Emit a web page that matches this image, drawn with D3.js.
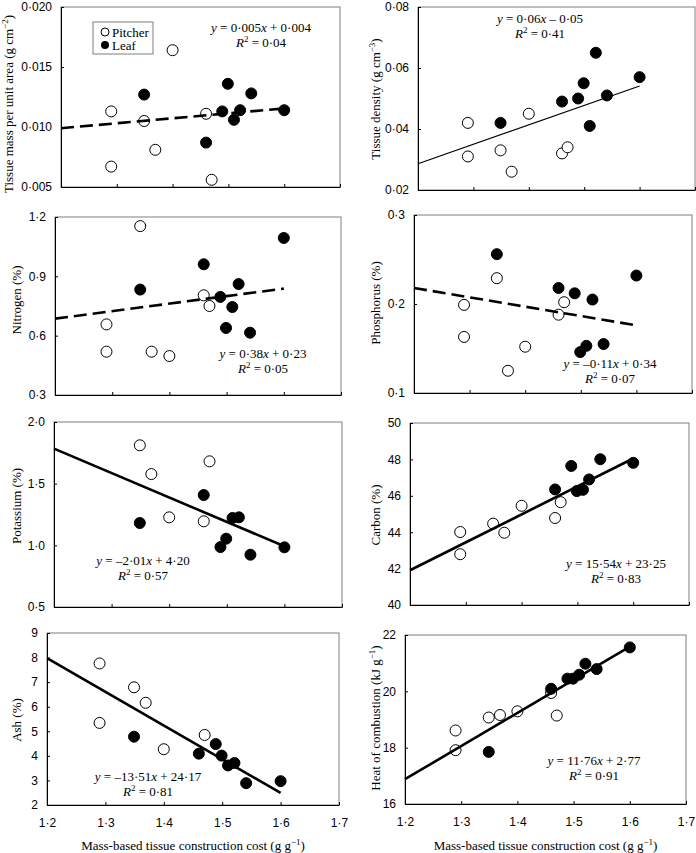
<!DOCTYPE html>
<html>
<head>
<meta charset="utf-8">
<script src="https://cdn.jsdelivr.net/npm/d3@7"></script>
<style>
  body { margin: 0; background: #fff; }
  svg { font-family: "Liberation Serif", "Times New Roman", serif; }
  text { white-space: pre; }
</style>
</head>
<body>
<script>
// construction cost (x) of each plant, same in every panel
var pitcherCost = [1.29, 1.29, 1.349, 1.369, 1.40, 1.46, 1.47];
var leafCost = [1.349, 1.46, 1.489, 1.499, 1.51, 1.521, 1.541, 1.60];

// y values per panel, in the order of the cost arrays (null = not plotted)
var tmaPitcher = [0.0113, 0.0067, 0.0105, 0.0081, 0.0164, 0.0111, 0.0056];
var tmaLeaf = [0.0127, 0.0087, 0.0113, 0.0136, 0.0106, 0.0114, 0.0128, 0.0114];
var densityPitcher = [0.042, 0.031, 0.033, 0.026, 0.045, 0.032, 0.034];
var densityLeaf = [0.042, 0.049, 0.050, 0.055, 0.041, 0.065, 0.051, 0.057];
var nitrogenPitcher = [0.657, 0.519, 1.154, 0.519, 0.497, 0.804, 0.750];
var nitrogenLeaf = [0.833, 0.961, 0.796, 0.639, 0.745, 0.861, 0.615, 1.094];
var phosphorusPitcher = [0.199, 0.163, 0.229, 0.125, 0.152, 0.188, 0.202];
var phosphorusLeaf = [0.256, 0.218, 0.212, 0.146, 0.153, 0.205, 0.155, 0.232];
var potassiumPitcher = [null, null, 1.811, 1.578, 1.227, 1.195, 1.681];
var potassiumLeaf = [1.181, 1.408, 0.986, 1.054, 1.222, 1.227, 0.924, 0.984];
var carbonPitcher = [44.01, 42.79, 44.47, 43.97, 45.45, 44.78, 45.65];
var carbonLeaf = [null, 46.35, 47.64, 46.26, 46.33, 46.90, 48.01, 47.81];
var ashPitcher = [7.76, 5.34, 6.79, 6.16, 4.27, null, 4.85];
var ashLeaf = [4.78, 4.09, 4.48, 4.01, 3.61, 3.71, 2.89, 2.97];
var heatPitcher = [18.61, 17.91, 19.07, 19.16, 19.29, 19.94, 19.14];
var heatLeaf = [17.85, 20.09, 20.45, 20.45, 20.59, 20.98, 20.79, 21.56];

// fitted lines, value at cost 1.2 and 1.6
var trendCost = [1.2, 1.6];
var tmaTrend = [0.0099, 0.01155];
var densityTrend = [0.0286, 0.0541];
var nitrogenTrend = [0.686, 0.838];
var phosphorusTrend = [0.218, 0.176];
var potassiumTrend = [1.784, 0.992];
var carbonTrend = [41.91, 48.05];
var ashTrend = [7.98, 2.49];
var heatTrend = [16.88, 21.59];

var xTicks = [1.2, 1.3, 1.4, 1.5, 1.6, 1.7];

var panels = [
  {box: [61, 7, 340, 187], yTicks: [0.005, 0.010, 0.015, 0.020], fmt: ".3f",
   pitcher: tmaPitcher, leaf: tmaLeaf, trend: tmaTrend, style: "dash",
   label: ["Tissue mass per unit area (g cm", "\u22122", ")"], labelPos: [13, 104],
   eq: "y = 0·005x + 0·004", r2: "0·04", eqPos: [261, 32]},
  {box: [418, 7, 695, 190], yTicks: [0.02, 0.04, 0.06, 0.08], fmt: ".2f",
   pitcher: densityPitcher, leaf: densityLeaf, trend: densityTrend, style: "thin",
   label: ["Tissue density (g cm", "\u22123", ")"], labelPos: [380, 99],
   eq: "y = 0·06x \u2013 0·05", r2: "0·41", eqPos: [540, 23]},
  {box: [55, 217, 341, 395], yTicks: [0.3, 0.6, 0.9, 1.2], fmt: ".1f",
   pitcher: nitrogenPitcher, leaf: nitrogenLeaf, trend: nitrogenTrend, style: "dash",
   label: ["Nitrogen (%)"], labelPos: [21, 300],
   eq: "y = 0·38x + 0·23", r2: "0·05", eqPos: [263, 358]},
  {box: [414, 215, 692, 393], yTicks: [0.1, 0.2, 0.3], fmt: ".1f",
   pitcher: phosphorusPitcher, leaf: phosphorusLeaf, trend: phosphorusTrend, style: "dash",
   label: ["Phosphorus (%)"], labelPos: [380, 303],
   eq: "y = \u20130·11x + 0·34", r2: "0·07", eqPos: [610, 368]},
  {box: [54, 422, 342, 607], yTicks: [0.5, 1.0, 1.5, 2.0], fmt: ".1f",
   pitcher: potassiumPitcher, leaf: potassiumLeaf, trend: potassiumTrend, style: "solid",
   label: ["Potassium (%)"], labelPos: [21, 506],
   eq: "y = \u20132·01x + 4·20", r2: "0·57", eqPos: [143, 565]},
  {box: [410, 423, 689, 605], yTicks: [40, 42, 44, 46, 48, 50], fmt: ".0f",
   pitcher: carbonPitcher, leaf: carbonLeaf, trend: carbonTrend, style: "solid",
   label: ["Carbon (%)"], labelPos: [380, 515],
   eq: "y = 15·54x + 23·25", r2: "0·83", eqPos: [616, 568]},
  {box: [47, 633, 339, 805], yTicks: [2, 3, 4, 5, 6, 7, 8, 9], fmt: ".0f",
   pitcher: ashPitcher, leaf: ashLeaf, trend: ashTrend, style: "solid",
   label: ["Ash (%)"], labelPos: [21, 720],
   eq: "y = \u201313·51x + 24·17", r2: "0·81", eqPos: [148, 781], bottom: true},
  {box: [405, 635, 686, 804], yTicks: [16, 18, 20, 22], fmt: ".0f",
   pitcher: heatPitcher, leaf: heatLeaf, trend: heatTrend, style: "solid",
   label: ["Heat of combustion (kJ g", "\u22121", ")"], labelPos: [380, 718],
   eq: "y = 11·76x + 2·77", r2: "0·91", eqPos: [594, 765], bottom: true}
];

var svg = d3.select("body").append("svg")
  .attr("width", 696)
  .attr("height", 853);

function dot(s) { return s.replace(".", "\u00b7"); }

// text with a superscript part: [before, sup, after]
function addSup(t, parts, size) {
  t.append("tspan").text(parts[0]);
  if (parts.length > 1) {
    t.append("tspan").attr("dy", -5).style("font-size", (size - 4) + "px").text(parts[1]);
    t.append("tspan").attr("dy", 5).text(parts[2]);
  }
}

panels.forEach(function(p) {
  var x = d3.scaleLinear().domain([1.2, 1.7]).range([p.box[0], p.box[2]]);
  var y = d3.scaleLinear().domain([p.yTicks[0], p.yTicks[p.yTicks.length - 1]])
    .range([p.box[3], p.box[1]]);
  var g = svg.append("g");

  //frame
  g.append("rect")
    .attr("x", p.box[0]).attr("y", p.box[1])
    .attr("width", p.box[2] - p.box[0]).attr("height", p.box[3] - p.box[1])
    .attr("fill", "none").attr("stroke", "#7f7f7f");

  //y axis, ticks pointing inwards
  var ya = g.append("g")
    .attr("transform", "translate(" + p.box[0] + ",0)")
    .call(d3.axisLeft(y).tickValues(p.yTicks).tickSizeInner(-3).tickSizeOuter(0)
      .tickPadding(9).tickFormat(function(d) { return dot(d3.format(p.fmt)(d)); }));
  ya.select(".domain").attr("stroke", "#000");
  ya.selectAll("text").style("font-size", "12px").style("font-family", null).attr("fill", "#000");

  //x axis
  var xa = g.append("g")
    .attr("transform", "translate(0," + p.box[3] + ")")
    .call(d3.axisBottom(x).tickValues(xTicks).tickSizeInner(-3).tickSizeOuter(0)
      .tickPadding(13).tickFormat(function(d) { return p.bottom ? dot(d3.format(".1f")(d)) : ""; }));
  xa.select(".domain").attr("stroke", "#000");
  xa.selectAll("text").style("font-size", "12px").style("font-family", null).attr("fill", "#000");

  //points
  var pts = [];
  pitcherCost.forEach(function(c, i) { if (p.pitcher[i] != null) pts.push({x: c, y: p.pitcher[i], leaf: false}); });
  leafCost.forEach(function(c, i) { if (p.leaf[i] != null) pts.push({x: c, y: p.leaf[i], leaf: true}); });
  g.selectAll(".pt").data(pts).enter().append("circle")
    .attr("cx", function(d) { return x(d.x); })
    .attr("cy", function(d) { return y(d.y); })
    .attr("r", 5.5)
    .attr("fill", function(d) { return d.leaf ? "#000" : "#fff"; })
    .attr("stroke", "#000")
    .attr("stroke-width", 1);

  //trend line
  var line = d3.line().x(function(d) { return x(d[0]); }).y(function(d) { return y(d[1]); });
  g.append("path")
    .datum(d3.zip(trendCost, p.trend))
    .attr("d", line)
    .attr("fill", "none")
    .attr("stroke", "#000")
    .attr("stroke-width", p.style == "thin" ? 1.2 : 2.6)
    .style("stroke-dasharray", p.style == "dash" ? "13, 6" : null);

  //equation
  var eq = g.append("text")
    .attr("x", p.eqPos[0]).attr("y", p.eqPos[1])
    .attr("text-anchor", "middle").style("font-size", "13px");
  p.eq.split(/([xy])/).forEach(function(s) {
    if (!s) return;
    eq.append("tspan").style("font-style", /^[xy]$/.test(s) ? "italic" : null).text(s);
  });
  var r2 = g.append("text")
    .attr("x", p.eqPos[0]).attr("y", p.eqPos[1] + 15)
    .attr("text-anchor", "middle").style("font-size", "13px");
  r2.append("tspan").style("font-style", "italic").text("R");
  r2.append("tspan").attr("dy", -5).style("font-size", "9px").text("2");
  r2.append("tspan").attr("dy", 5).text(" = " + p.r2);

  //y label
  var yl = g.append("text")
    .attr("transform", "translate(" + p.labelPos[0] + "," + p.labelPos[1] + ") rotate(-90)")
    .attr("text-anchor", "middle").style("font-size", "13px");
  addSup(yl, p.label, 13);

  //x label
  if (p.bottom) {
    var xl = g.append("text")
      .attr("x", (p.box[0] + p.box[2]) / 2).attr("y", 850)
      .attr("text-anchor", "middle").style("font-size", "13px");
    addSup(xl, ["Mass-based tissue construction cost (g g", "\u22121", ")"], 13);
  }
});

//legend in the first panel
var lg = svg.append("g");
lg.append("rect").attr("x", 93).attr("y", 22).attr("width", 60).attr("height", 32)
  .attr("fill", "#fff").attr("stroke", "#7f7f7f");
lg.append("circle").attr("cx", 105).attr("cy", 32).attr("r", 4)
  .attr("fill", "#fff").attr("stroke", "#000");
lg.append("circle").attr("cx", 105).attr("cy", 45).attr("r", 4).attr("fill", "#000");
lg.append("text").attr("x", 112).attr("y", 36.5).style("font-size", "13px").text("Pitcher");
lg.append("text").attr("x", 112).attr("y", 49.5).style("font-size", "13px").text("Leaf");
</script>
</body>
</html>
